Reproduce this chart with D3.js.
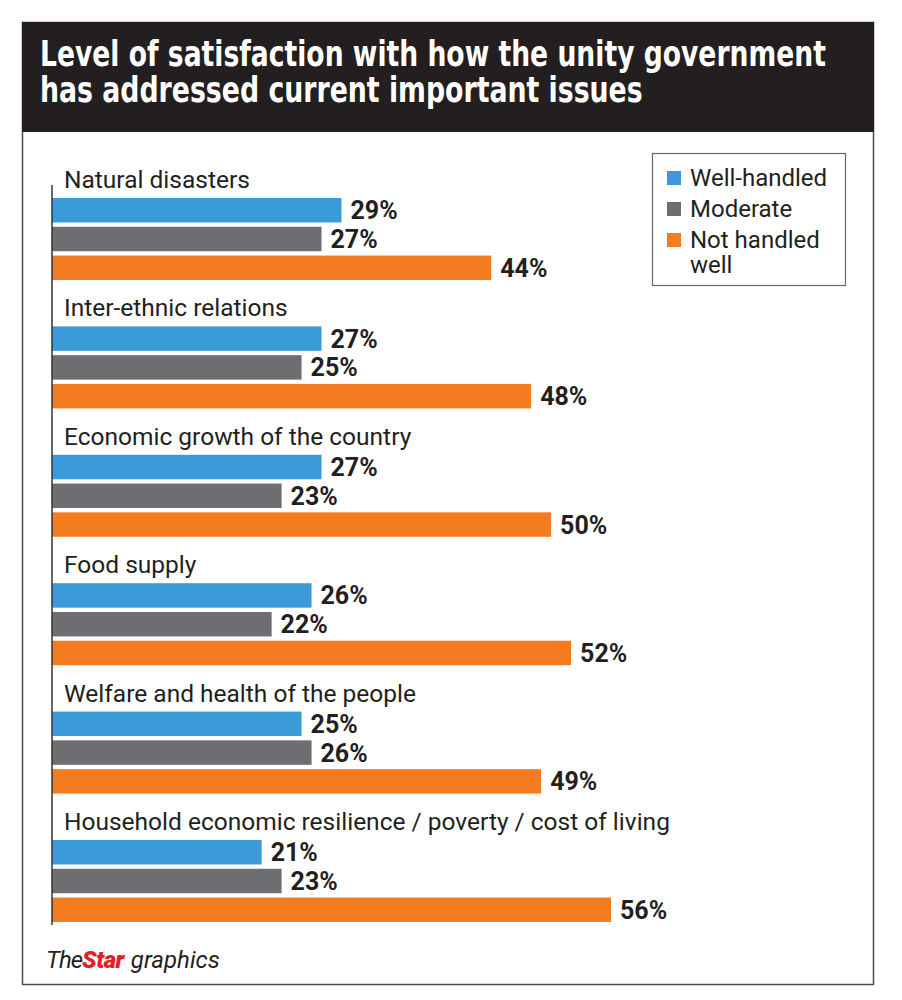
<!DOCTYPE html>
<html>

<head>
  <meta charset="utf-8">
  <title>Level of satisfaction</title>
  <style>
    body { margin: 0; background: #fff; }
  </style>
</head>

<body>
  <svg width="902" height="1000"></svg>
  <script src="https://d3js.org/d3.v7.min.js"></script>
  <script>
    var categories = [
      "Natural disasters",
      "Inter-ethnic relations",
      "Economic growth of the country",
      "Food supply",
      "Welfare and health of the people",
      "Household economic resilience / poverty / cost of living"
    ];
    var seriesNames = ["Well-handled", "Moderate", "Not handled well"];
    var wellHandled = [29, 27, 27, 26, 25, 21];
    var moderate = [27, 25, 23, 22, 26, 23];
    var notHandled = [44, 48, 50, 52, 49, 56];
    var colors = ["#3b9bd8", "#6d6e71", "#f47c20"];

    var seriesValues = [wellHandled, moderate, notHandled];

    var svg = d3.select("svg");
    svg.append("rect").attr("width", 902).attr("height", 1000).attr("fill", "#fff");

    // outer frame
    svg.append("rect")
      .attr("x", 22.5).attr("y", 22.5)
      .attr("width", 851).attr("height", 962)
      .attr("fill", "none")
      .attr("stroke", "#4a4a4a")
      .attr("stroke-width", 1.5);

    // header
    svg.append("rect")
      .attr("x", 22).attr("y", 22)
      .attr("width", 852).attr("height", 110)
      .attr("fill", "#231f20");

    // title lines, squeezed horizontally to the reference widths
    var titleFont = "'Liberation Sans Narrow', 'DejaVu Sans Condensed', Roboto, sans-serif";
    var titleLines = ["Level of satisfaction with how the unity government", "has addressed current important issues"];
    var titleWidths = [786, 603];
    titleLines.forEach(function (line, i) {
      var t = svg.append("text")
        .attr("x", 0).attr("y", 0)
        .style("font-family", titleFont).style("font-weight", "bold")
        .style("font-size", "36px").attr("fill", "#fff")
        .text(line);
      var w = t.node().getComputedTextLength();
      t.attr("transform", "translate(40," + (66 + i * 36) + ") scale(" + (titleWidths[i] / w) + ",1)");
    });

    var x = d3.scaleLinear().domain([0, 56]).range([52, 611]);
    var yGroup = d3.scaleBand().domain(categories).range([170, 170 + 6 * 128.4]);
    var yInner = d3.scaleBand().domain(d3.range(3)).range([28, 110]).paddingInner(0.15);

    var groups = svg.selectAll("g.cat")
      .data(categories)
      .enter().append("g")
      .attr("class", "cat")
      .attr("transform", d => "translate(0," + yGroup(d) + ")");

    groups.append("text")
      .attr("x", 64).attr("y", 18)
      .style("font-family", "Roboto, sans-serif")
      .style("font-size", "24.5px")
      .attr("fill", "#231f20")
      .text(d => d);

    groups.each(function (cat, ci) {
      var g = d3.select(this);
      var rows = seriesValues.map((vals, si) => ({ s: si, v: vals[ci] }));
      g.selectAll("rect")
        .data(rows)
        .enter().append("rect")
        .attr("x", x(0))
        .attr("y", d => yInner(d.s))
        .attr("width", d => x(d.v) - x(0))
        .attr("height", yInner.bandwidth())
        .attr("fill", d => colors[d.s]);
      g.selectAll("text.val")
        .data(rows)
        .enter().append("text")
        .attr("class", "val")
        .attr("x", d => x(d.v) + 9)
        .attr("y", d => yInner(d.s) + yInner.bandwidth() / 2 + 9)
        .style("font-family", "Roboto, sans-serif")
        .style("font-weight", "bold")
        .style("font-size", "25px")
        .attr("fill", "#231f20")
        .text(d => d.v + "%");
    });

    // axis line
    svg.append("line")
      .attr("x1", x(0)).attr("x2", x(0))
      .attr("y1", yGroup(categories[0]) + 15)
      .attr("y2", yGroup(categories[5]) + 113)
      .attr("stroke", "#333").attr("stroke-width", 1.5);

    // legend
    var legend = svg.append("g").attr("transform", "translate(652,153)");
    legend.append("rect")
      .attr("x", 0.5).attr("y", 0.5).attr("width", 193).attr("height", 132)
      .attr("fill", "#fff").attr("stroke", "#666").attr("stroke-width", 1.2);
    var legendLines = [["Well-handled"], ["Moderate"], ["Not handled", "well"]];
    var legendY = [33, 64, 95];
    legendLines.forEach(function (lines, i) {
      legend.append("rect")
        .attr("x", 15).attr("y", legendY[i] - 15)
        .attr("width", 14).attr("height", 14)
        .attr("fill", colors[i]);
      lines.forEach(function (l, j) {
        legend.append("text")
          .attr("x", 38).attr("y", legendY[i] + j * 25)
          .style("font-family", "Roboto, sans-serif")
          .style("font-size", "24px")
          .attr("fill", "#231f20")
          .text(l);
      });
    });

    // footer
    var foot = svg.append("text")
      .attr("x", 46).attr("y", 968)
      .style("font-family", "Roboto, sans-serif")
      .style("font-size", "24px")
      .style("font-style", "italic");
    foot.append("tspan").attr("fill", "#231f20").style("letter-spacing", "-1px").text("The");
    foot.append("tspan").attr("fill", "#e31e24").style("font-weight", "900").style("letter-spacing", "-0.5px").text("Star");
    foot.append("tspan").attr("fill", "#231f20").attr("dx", 7).text("graphics");
  </script>

</body>

</html>
